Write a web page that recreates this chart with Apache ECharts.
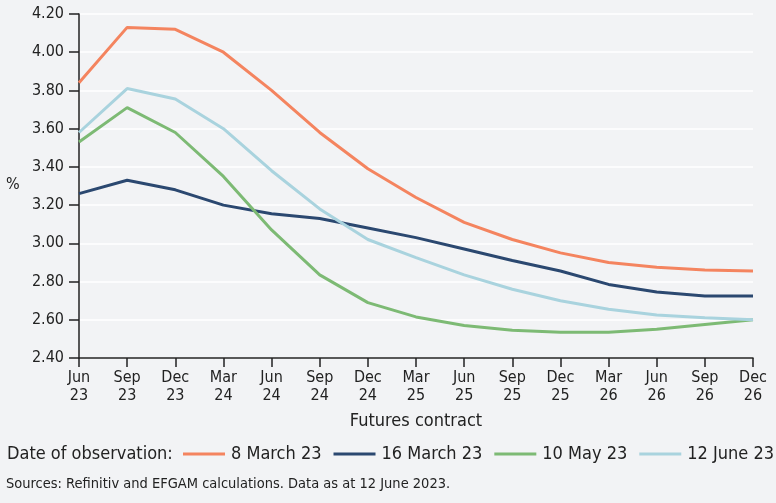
<!DOCTYPE html>
<html><head><meta charset="utf-8">
<script src="https://cdn.jsdelivr.net/npm/echarts@6/dist/echarts.min.js"></script>
<style>html,body{margin:0;padding:0;background:#f2f3f5;}#c{width:776px;height:503px;}</style>
</head><body><div id="c"></div>
<script>
const categories = ["Jun\n23","Sep\n23","Dec\n23","Mar\n24","Jun\n24","Sep\n24","Dec\n24","Mar\n25","Jun\n25","Sep\n25","Dec\n25","Mar\n26","Jun\n26","Sep\n26","Dec\n26"];
const march8 = [3.84,4.13,4.12,4.00,3.80,3.58,3.39,3.24,3.11,3.02,2.95,2.90,2.875,2.86,2.855];
const march16 = [3.26,3.33,3.28,3.20,3.155,3.13,3.08,3.03,2.97,2.91,2.855,2.785,2.745,2.725,2.725];
const may10 = [3.53,3.71,3.58,3.35,3.07,2.835,2.69,2.615,2.57,2.545,2.535,2.535,2.55,2.575,2.60];
const june12 = [3.58,3.81,3.755,3.60,3.38,3.18,3.02,2.925,2.835,2.76,2.70,2.655,2.625,2.61,2.60];
const seriesNames = ["8 March 23","16 March 23","10 May 23","12 June 23"];
const colors = ["#f4845f","#2b4870","#7dba74","#a9d3de"];
const FONT = "'DejaVu Sans Condensed','Liberation Sans Narrow','Roboto',sans-serif";
const chart = echarts.init(document.getElementById('c'));
const mk = (name, data, i) => ({name, type:'line', data, symbol:'none', smooth:false,
  lineStyle:{width:3, color:colors[i]}, itemStyle:{color:colors[i]}});
chart.setOption({
  backgroundColor:'#f2f3f5',
  animation:false,
  textStyle:{fontFamily:FONT},
  grid:{left:79,right:23,top:14,bottom:145},
  legend:{left:183, top:445, itemWidth:42, itemHeight:3, itemGap:12,
    icon:'rect', padding:[0,0,0,0],
    textStyle:{fontSize:18,color:'#222',fontFamily:FONT,padding:[0,0,0,1]},
    data:seriesNames},
  graphic:[
    {type:'text',left:7,top:445,style:{text:'Date of observation:',font:"18px "+FONT,fill:'#222'}},
    {type:'text',left:6,top:477,style:{text:'Sources: Refinitiv and EFGAM calculations. Data as at 12 June 2023.',font:"14.5px "+FONT,fill:'#222'}},
    {type:'text',left:6,top:177,style:{text:'%',font:"16px "+FONT,fill:'#222'}}
  ],
  xAxis:{type:'category',data:categories,boundaryGap:false,
    name:'Futures contract',nameLocation:'middle',nameGap:54,
    nameTextStyle:{fontSize:18,color:'#222',fontFamily:FONT},
    axisLine:{lineStyle:{color:'#222',width:1.5}},
    axisTick:{length:9,lineStyle:{color:'#222',width:1.5}},
    axisLabel:{fontSize:16,color:'#222',lineHeight:18,margin:11,fontFamily:FONT},
    splitLine:{show:false}},
  yAxis:{type:'value',min:2.4,max:4.2,interval:0.2,
    axisLine:{show:true,lineStyle:{color:'#222',width:1.5}},
    axisTick:{show:true,length:10,lineStyle:{color:'#222',width:1.5}},
    axisLabel:{fontSize:16,color:'#222',margin:15,formatter:v=>v.toFixed(2),fontFamily:FONT},
    splitLine:{lineStyle:{color:'#ffffff',width:1.5}}},
  series:[mk(seriesNames[0],march8,0),mk(seriesNames[1],march16,1),mk(seriesNames[2],may10,2),mk(seriesNames[3],june12,3)]
});
</script></body></html>
